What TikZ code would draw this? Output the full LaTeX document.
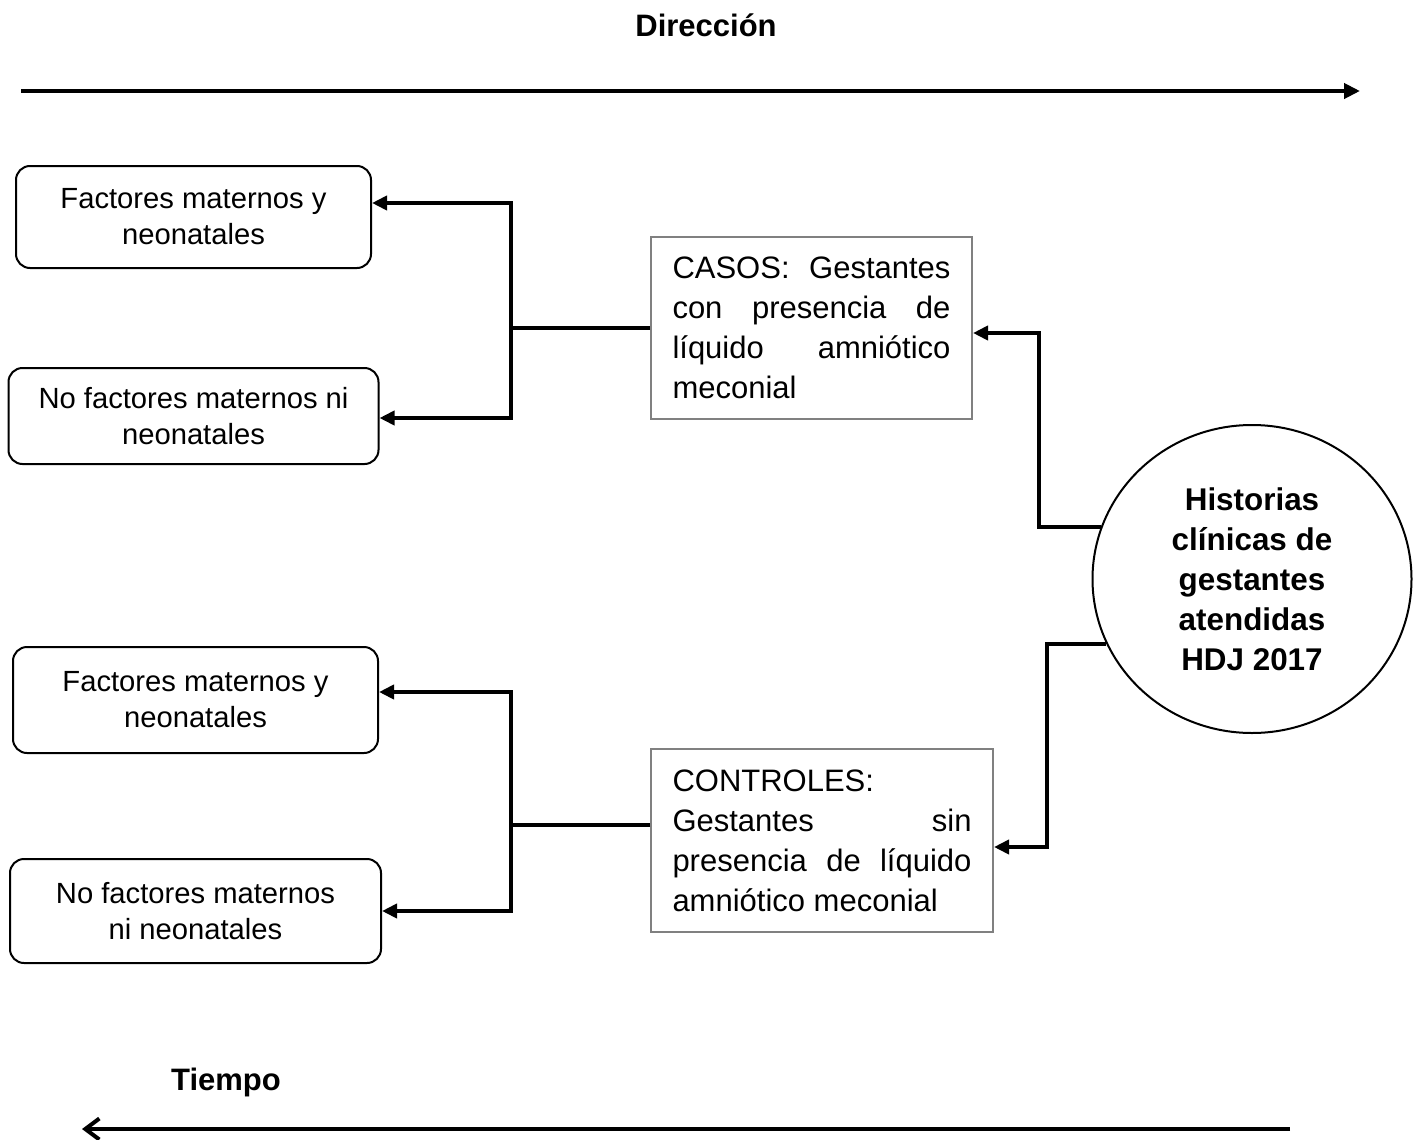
\documentclass[tikz,border=0pt]{standalone}
\usepackage{fontspec}
\setmainfont{Liberation Sans}
\usetikzlibrary{arrows.meta,positioning,shapes.geometric}
\tikzset{
  factbox/.style={draw, line width=1pt, rounded corners=7pt, align=center, inner sep=0pt, font=\fontsize{14.6}{18}\selectfont},
  groupbox/.style={draw=black!50, line width=1pt, align=justify, inner xsep=10.75pt, minimum height=91pt, font=\fontsize{15.5}{20}\selectfont},
  sourcenode/.style={draw, ellipse, line width=1pt, align=center, inner sep=0pt, minimum width=159.5pt, minimum height=154pt, font=\fontsize{15.7}{20}\selectfont\bfseries},
  axislabel/.style={font=\fontsize{15.5}{18}\selectfont\bfseries},
  flowline/.style={line width=2pt},
  flowarrow/.style={line width=2pt, -{Triangle[length=7.5pt,width=7pt]}},
  dirarrow/.style={line width=2.2pt, -{Triangle[length=8pt,width=7.5pt]}},
  timearrow/.style={line width=2pt, -{Straight Barb[length=7pt,width=10.5pt]}}
}
\begin{document}
\begin{tikzpicture}[x=0.5pt, y=-0.5pt]
\useasboundingbox (0,0) rectangle (1419,1140);
% direccion
\node[axislabel] (dirlabel) at (706,25) {Dirección};
\coordinate (dirstart) at (21,91);
\coordinate (dirend) at (1360,91);
\draw[dirarrow] (dirstart) -- (dirend);
% factores
\node[factbox, minimum width=177.5pt, minimum height=51pt] (fm1) at (193.5,217) {Factores maternos y\\neonatales};
\node[factbox, minimum width=185pt, minimum height=48pt, below=49pt of fm1] (nf1) {No factores maternos ni\\neonatales};
\node[factbox, minimum width=182.5pt, minimum height=53pt] (fm2) at (195.5,700) {Factores maternos y\\neonatales};
\node[factbox, minimum width=185.5pt, minimum height=52pt, below=52pt of fm2] (nf2) {No factores maternos\\ni neonatales};
% grupos
\node[groupbox, text width=139pt] (casos) at (811.5,328) {CASOS: Gestantes\linebreak con presencia de\linebreak líquido amniótico\linebreak meconial};
\node[groupbox, text width=149.5pt, minimum height=91.5pt] (controles) at (822,840.5) {CONTROLES:\\Gestantes sin\linebreak presencia de líquido\linebreak amniótico meconial};
\node[sourcenode] (hist) at (1252,579) {Historias\\clínicas de\\gestantes\\atendidas\\HDJ 2017};
% conexiones
\draw[flowline] (casos.west) -- ++(-139,0) coordinate (casosfork);
\draw[flowarrow] (casosfork) |- ([yshift=7pt]fm1.east);
\draw[flowarrow] (casosfork) |- ([yshift=-1pt]nf1.east);
\draw[flowline] ([yshift=7.75pt]controles.west) -- ++(-139,0) coordinate (ctrlfork);
\draw[flowarrow] (ctrlfork) |- ([yshift=4pt]fm2.east);
\draw[flowarrow] (ctrlfork) |- (nf2.east);
\draw[flowarrow] (hist.161.3) -- ++(-62,0) |- ([yshift=-2.5pt]casos.east);
\draw[flowarrow] (hist.204.6) -- ++(-59,0) |- ([yshift=-3.25pt]controles.east);
% tiempo
\node[axislabel] (timelabel) at (226,1082) {Tiempo};
\coordinate (timestart) at (1290,1129);
\coordinate (timeend) at (82,1129);
\draw[timearrow] (timestart) -- (timeend);
\end{tikzpicture}
\end{document}
